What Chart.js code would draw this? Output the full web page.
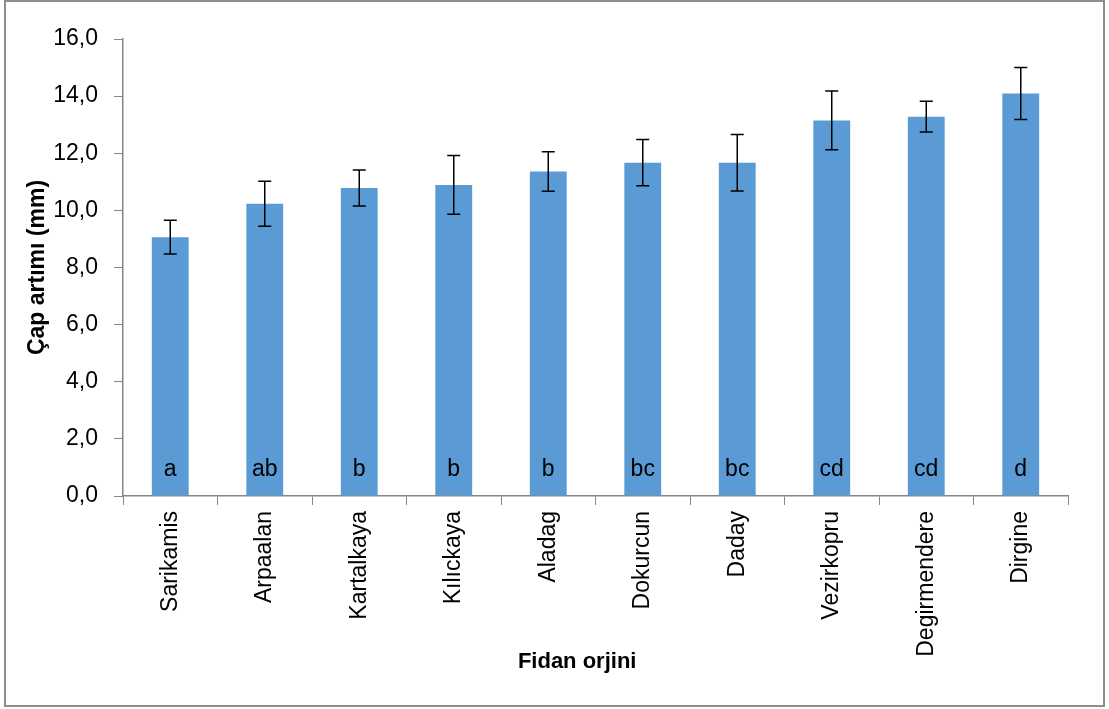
<!DOCTYPE html>
<html>
<head>
<meta charset="utf-8">
<script src="https://cdn.jsdelivr.net/npm/chart.js@4/dist/chart.umd.min.js"></script>
<style>
  html, body { margin: 0; padding: 0; background: #fff; }
  #wrap { position: relative; width: 1109px; height: 709px; }
  #frame {
    position: absolute; left: 4px; top: 0px; width: 1097px; height: 703px;
    border: 2px solid #8e8e8e; pointer-events: none;
  }
  canvas { position: absolute; left: 0; top: 0; }
</style>
</head>
<body>
<div id="wrap">
  <canvas id="chart" width="1109" height="709"></canvas>
  <div id="frame"></div>
</div>
<script>
// data
const origins = ["Sarikamis", "Arpaalan", "Kartalkaya", "Kılıckaya", "Aladag",
  "Dokurcun", "Daday", "Vezirkopru", "Degirmendere", "Dirgine"];
const diameterGrowth = [9.06, 10.23, 10.78, 10.89, 11.36, 11.67, 11.67, 13.15, 13.28, 14.09];
const stdError = [0.59, 0.79, 0.63, 1.03, 0.69, 0.81, 0.99, 1.03, 0.54, 0.91];
const groupLetters = ["a", "ab", "b", "b", "b", "bc", "bc", "cd", "cd", "d"];

const fontFamily = "'Liberation Sans', Arial, sans-serif";

// error bars and significance letters
const extrasPlugin = {
  id: "extras",
  afterDatasetsDraw(chart) {
    const ctx = chart.ctx;
    const meta = chart.getDatasetMeta(0);
    const y = chart.scales.y;
    ctx.save();
    meta.data.forEach((bar, i) => {
      const v = diameterGrowth[i];
      const e = stdError[i];
      const top = y.getPixelForValue(v + e);
      const bot = y.getPixelForValue(v - e);
      ctx.strokeStyle = "#000";
      ctx.lineWidth = 1.5;
      ctx.beginPath();
      ctx.moveTo(bar.x, top);
      ctx.lineTo(bar.x, bot);
      ctx.moveTo(bar.x - 6.5, top);
      ctx.lineTo(bar.x + 6.5, top);
      ctx.moveTo(bar.x - 6.5, bot);
      ctx.lineTo(bar.x + 6.5, bot);
      ctx.stroke();

      ctx.fillStyle = "#000";
      ctx.font = "23px " + fontFamily;
      ctx.textAlign = "center";
      ctx.textBaseline = "middle";
      ctx.fillText(groupLetters[i], bar.x, y.getPixelForValue(0) - 26);
    });
    ctx.restore();
  }
};

new Chart(document.getElementById("chart"), {
  type: "bar",
  data: {
    labels: origins,
    datasets: [{
      data: diameterGrowth,
      backgroundColor: "#5b9bd5",
      borderWidth: 0,
      barPercentage: 0.39,
      categoryPercentage: 1.0
    }]
  },
  options: {
    responsive: false,
    animation: false,
    layout: { padding: { left: 24, top: 39, right: 41, bottom: 34 } },
    plugins: {
      legend: { display: false },
      tooltip: { enabled: false }
    },
    scales: {
      x: {
        afterFit: (scale) => { scale.height = 179; },
        grid: {
          display: true,
          drawOnChartArea: false,
          offset: true,
          tickLength: 9,
          color: "#868686"
        },
        border: { color: "#868686", width: 1.5 },
        ticks: {
          color: "#000",
          font: { family: fontFamily, size: 23 },
          minRotation: 90,
          maxRotation: 90,
          padding: 6
        },
        title: {
          display: true,
          // trailing spaces nudge the centred title left, as in the original
          text: "Fidan orjini\u00a0\u00a0\u00a0\u00a0\u00a0\u00a0",
          color: "#000",
          font: { family: fontFamily, size: 22, weight: "bold" },
          padding: 0
        }
      },
      y: {
        min: 0,
        max: 16,
        afterFit: (scale) => { scale.width = 99; },
        grid: {
          display: true,
          drawOnChartArea: false,
          tickLength: 9,
          color: "#868686"
        },
        border: { color: "#868686", width: 1.5 },
        ticks: {
          stepSize: 2,
          color: "#000",
          font: { family: fontFamily, size: 23 },
          padding: 16,
          callback: (v) => v.toFixed(1).replace(".", ",")
        },
        title: {
          display: true,
          text: "Çap artımı (mm)",
          color: "#000",
          font: { family: fontFamily, size: 23, weight: "bold" },
          padding: 0
        }
      }
    }
  },
  plugins: [extrasPlugin]
});
</script>
</body>
</html>
